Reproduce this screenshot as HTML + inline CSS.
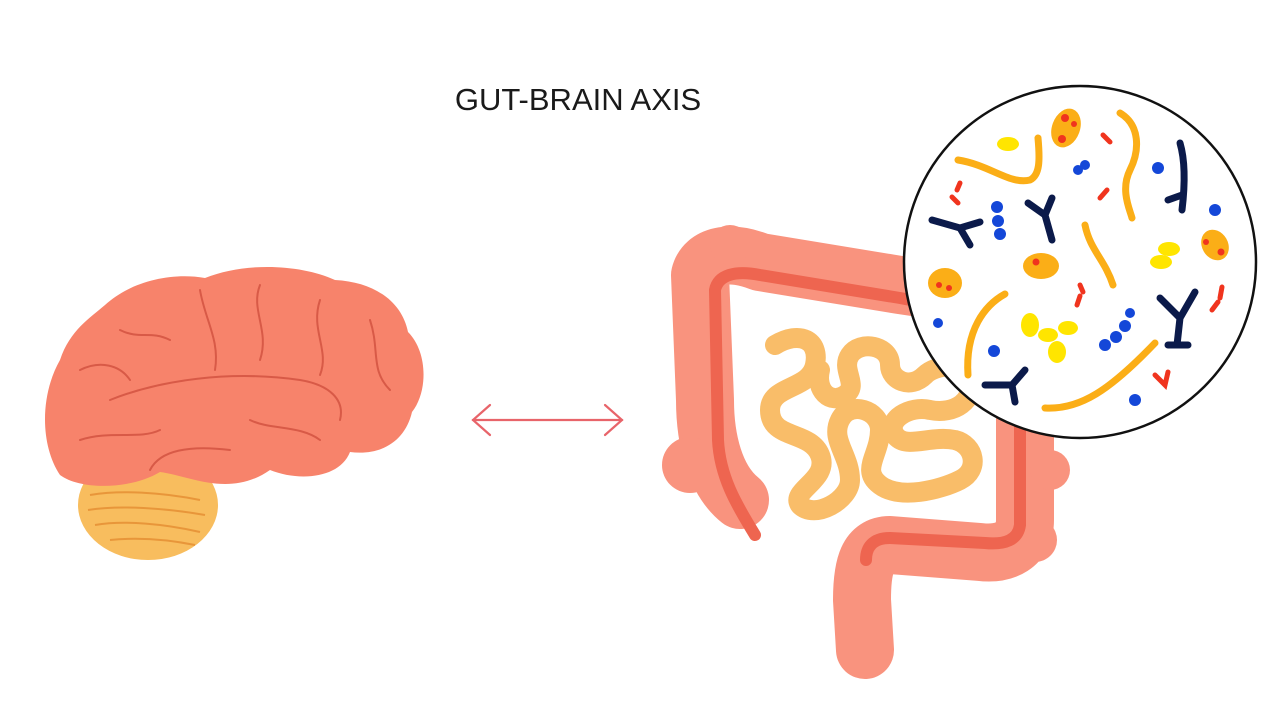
<!DOCTYPE html>
<html><head><meta charset="utf-8"><style>
html,body{margin:0;padding:0;background:#fff;width:1280px;height:720px;overflow:hidden}
</style></head><body>
<svg width="1280" height="720" viewBox="0 0 1280 720" xmlns="http://www.w3.org/2000/svg">
<text x="578" y="110" font-family="Liberation Sans, sans-serif" font-size="31" fill="#1a1a1a" text-anchor="middle">GUT-BRAIN AXIS</text>
<ellipse cx="148" cy="505" rx="70" ry="55" fill="#F8BD5E"/>
<g stroke="#E8963A" stroke-width="2" fill="none">
<path d="M90,495 C120,490 160,492 200,500"/><path d="M88,510 C120,505 165,508 205,515"/><path d="M95,525 C125,520 165,524 200,532"/><path d="M110,540 C140,537 170,540 195,545"/>
</g>
<path d="M60,475 C40,445 40,395 60,360 C70,330 90,318 105,305 C130,282 170,272 205,278 C245,262 300,264 335,280 C375,282 402,302 408,332 C428,352 428,392 412,412 C405,442 380,456 350,452 C340,478 300,482 270,470 C230,498 190,476 160,472 C130,490 80,490 60,475 Z" fill="#F7836B"/>
<g stroke="#D85A47" stroke-width="2" fill="none" stroke-linecap="round">
<path d="M110,400 C160,380 230,370 300,380 C330,385 345,400 340,420"/>
<path d="M150,470 C160,450 190,445 230,450"/>
<path d="M200,290 C205,320 220,340 215,370"/>
<path d="M260,285 C250,310 270,330 260,360"/>
<path d="M320,300 C310,330 330,350 320,375"/>
<path d="M80,370 C100,360 120,365 130,380"/>
<path d="M120,330 C140,340 150,330 170,340"/>
<path d="M370,320 C380,350 370,370 390,390"/>
<path d="M250,420 C270,430 300,425 320,440"/>
<path d="M80,440 C110,430 140,440 160,430"/>
</g>
<g stroke="#E8646A" stroke-width="2.2" fill="none" stroke-linecap="round">
<path d="M473,420 L622,420"/><path d="M490,405 L473,420 L490,435"/><path d="M605,405 L622,420 L605,435"/>
</g>
<g fill="none" stroke="#F9937E" stroke-linecap="round" stroke-linejoin="round">
<path d="M740,500 C715,480 705,440 705,400 L700,275 C705,255 730,250 760,262 L900,285 L1000,300 C1020,310 1025,330 1025,360 L1025,520 C1025,545 1005,555 980,552 L890,545 C868,545 862,565 862,600 L865,650" stroke-width="58"/>
<circle cx="690" cy="465" r="28" fill="#F9937E" stroke="none"/>
<circle cx="730" cy="245" r="20" fill="#F9937E" stroke="none"/>
<circle cx="1050" cy="470" r="20" fill="#F9937E" stroke="none"/>
<circle cx="1035" cy="540" r="22" fill="#F9937E" stroke="none"/>
</g>
<path d="M755,535 C740,510 720,480 718,440 L715,290 C718,275 735,270 760,275 L900,298 L1005,318 C1018,325 1020,345 1020,360 L1020,525 C1018,540 1005,545 985,543 L890,538 C872,538 866,548 866,560" fill="none" stroke="#EE6550" stroke-width="12" stroke-linecap="round" stroke-linejoin="round"/>
<path d="M775,345 C800,330 820,340 815,365 C810,390 770,385 770,410 C770,440 810,430 820,455 C830,480 790,490 800,505 C815,520 850,500 850,480 C850,455 830,440 840,420 C850,400 880,410 880,430 C880,455 860,470 880,485 C900,500 940,490 960,480 C980,470 975,445 955,440 C930,435 905,450 895,435 C885,420 910,405 930,410 C955,415 975,400 970,380 C965,360 935,365 925,375 C910,390 890,380 890,365 C890,345 860,340 850,355 C840,370 860,385 845,395 C830,405 815,390 820,370" fill="none" stroke="#F9BD69" stroke-width="20" stroke-linecap="round" stroke-linejoin="round"/>
<circle cx="1080" cy="262" r="176" fill="#fff" stroke="#111" stroke-width="2.5"/>
<g stroke-linecap="round" fill="none">
<g stroke="#FBAE17" stroke-width="7">
<path d="M958,160 C990,165 1010,185 1030,180 C1040,175 1040,160 1038,138"/>
<path d="M1120,113 C1140,125 1140,150 1130,170 C1120,190 1130,210 1132,218"/>
<path d="M1085,225 C1090,250 1105,260 1113,285"/>
<path d="M1005,294 C985,305 965,330 968,375"/>
<path d="M1045,408 C1080,410 1110,390 1155,343"/>
</g>
<g stroke="#0B1A4A" stroke-width="7">
<path d="M932,220 L960,228 L980,222 M960,228 L970,245"/>
<path d="M1028,203 L1045,215 L1052,240 M1045,215 L1052,198"/>
<path d="M1180,143 C1185,160 1185,185 1182,210 M1182,195 L1168,200"/>
<path d="M1160,298 L1180,318 L1195,292 M1180,318 L1177,345 M1177,345 L1168,345 M1177,345 L1188,345"/>
<path d="M985,385 L1012,385 L1025,370 M1012,385 L1015,402"/>
</g>
<g stroke="#F0341E" stroke-width="5">
<path d="M1103,135 L1110,142"/><path d="M960,183 L957,190 M952,197 L958,203"/>
<path d="M1107,190 L1100,198"/><path d="M1080,285 L1083,292 M1080,296 L1077,305"/>
<path d="M1222,287 L1220,298 M1218,302 L1212,310"/><path d="M1155,375 L1165,385 L1168,372"/>
</g>
</g>
<g fill="#FBAE17">
<ellipse cx="1066" cy="128" rx="14" ry="20" transform="rotate(20 1066 128)"/>
<ellipse cx="1041" cy="266" rx="18" ry="13"/>
<ellipse cx="945" cy="283" rx="17" ry="15"/>
<ellipse cx="1215" cy="245" rx="13" ry="16" transform="rotate(-30 1215 245)"/>
</g>
<g fill="#F0341E">
<circle cx="1065" cy="118" r="4"/><circle cx="1074" cy="124" r="3"/><circle cx="1062" cy="139" r="4"/>
<circle cx="1036" cy="262" r="3.5"/><circle cx="939" cy="285" r="3"/><circle cx="949" cy="288" r="3"/>
<circle cx="1206" cy="242" r="3"/><circle cx="1221" cy="252" r="3.5"/>
</g>
<g fill="#FFE500">
<ellipse cx="1008" cy="144" rx="11" ry="7"/>
<ellipse cx="1169" cy="249" rx="11" ry="7"/><ellipse cx="1161" cy="262" rx="11" ry="7"/>
<ellipse cx="1030" cy="325" rx="9" ry="12"/><ellipse cx="1048" cy="335" rx="10" ry="7"/><ellipse cx="1068" cy="328" rx="10" ry="7"/><ellipse cx="1057" cy="352" rx="9" ry="11"/>
</g>
<g fill="#1447D8">
<circle cx="1078" cy="170" r="5"/><circle cx="1085" cy="165" r="5"/>
<circle cx="1158" cy="168" r="6"/><circle cx="1215" cy="210" r="6"/>
<circle cx="997" cy="207" r="6"/><circle cx="998" cy="221" r="6"/><circle cx="1000" cy="234" r="6"/>
<circle cx="938" cy="323" r="5"/><circle cx="994" cy="351" r="6"/>
<circle cx="1105" cy="345" r="6"/><circle cx="1116" cy="337" r="6"/><circle cx="1125" cy="326" r="6"/><circle cx="1130" cy="313" r="5"/>
<circle cx="1135" cy="400" r="6"/>
</g>
</svg>
</body></html>
